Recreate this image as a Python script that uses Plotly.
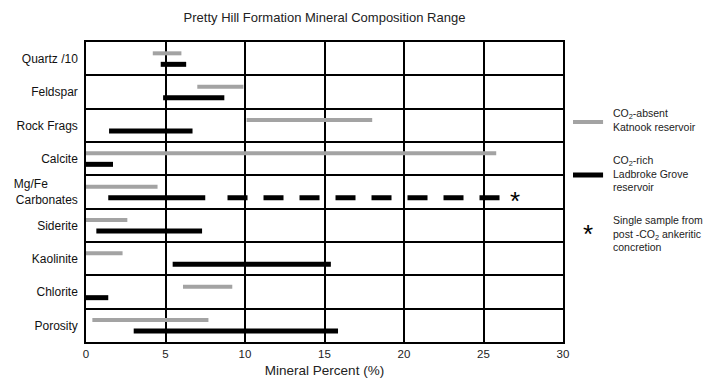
import plotly.graph_objects as go

NB = "\u00a0"
minerals = ["Quartz /10", "Feldspar", "Rock Frags", "Calcite", "Mg/Fe" + NB * 9 + "<br>Carbonates",
            "Siderite", "Kaolinite", "Chlorite", "Porosity"]
absent_lo = [4.2, 7.0, 10.1, 0.0, 0.0, 0.0, 0.0, 6.1, 0.4]
absent_hi = [6.0, 9.9, 18.0, 25.8, 4.5, 2.6, 2.3, 9.2, 7.7]
rich_lo = [4.7, 4.85, 1.45, 0.0, 1.4, 0.65, 5.45, 0.0, 3.0]
rich_hi = [6.3, 8.7, 6.7, 1.7, 7.5, 7.3, 15.4, 1.4, 15.85]
dash_row = 4
dash_lo, dash_hi = 8.9, 26.2
concretion_x = 27.0
x_ticks = [0, 5, 10, 15, 20, 25, 30]

GREY_OFF, BLACK_OFF = -0.16, 0.17
FONT = "Liberation Sans, Arial, sans-serif"


def seg(lo, hi, off):
    xs, ys = [], []
    for i, (a, b) in enumerate(zip(lo, hi)):
        y = i + 0.5 + off
        xs += [a, b, None]
        ys += [y, y, None]
    return xs, ys


fig = go.Figure()
gx, gy = seg(absent_lo, absent_hi, GREY_OFF)
fig.add_trace(go.Scatter(x=gx, y=gy, mode="lines", line=dict(color="#a3a3a3", width=4),
                         showlegend=False, hoverinfo="skip"))
bx, by = seg(rich_lo, rich_hi, BLACK_OFF)
fig.add_trace(go.Scatter(x=bx, y=by, mode="lines", line=dict(color="black", width=5),
                         showlegend=False, hoverinfo="skip"))
ri = dash_row
fig.add_trace(go.Scatter(x=[dash_lo, dash_hi], y=[ri + 0.5 + BLACK_OFF] * 2, mode="lines",
                         line=dict(color="black", width=5, dash="20px,16px"),
                         showlegend=False, hoverinfo="skip"))
fig.add_annotation(x=concretion_x, y=ri + 0.5 + BLACK_OFF, text="*", showarrow=False,
                   font=dict(family=FONT, size=26, color="black"), yshift=-3)

# legend
lx0, lx1 = 1.021, 1.084
def py(pix):
    return (342 - pix) / 300

fig.add_shape(type="line", xref="paper", yref="paper", x0=lx0, x1=lx1, y0=py(122), y1=py(122),
              line=dict(color="#a3a3a3", width=4))
fig.add_shape(type="line", xref="paper", yref="paper", x0=lx0, x1=lx1, y0=py(175), y1=py(175),
              line=dict(color="black", width=5))
leg_font = dict(family=FONT, size=10.5, color="#222")
fig.add_annotation(xref="paper", yref="paper", x=1.101, y=py(120), xanchor="left", yanchor="middle",
                   align="left", showarrow=False, font=leg_font,
                   text="CO<sub>2</sub>-absent<br>Katnook reservoir")
fig.add_annotation(xref="paper", yref="paper", x=1.101, y=py(173), xanchor="left", yanchor="middle",
                   align="left", showarrow=False, font=leg_font,
                   text="CO<sub>2</sub>-rich<br>Ladbroke Grove<br>reservoir")
fig.add_annotation(xref="paper", yref="paper", x=1.101, y=py(233), xanchor="left", yanchor="middle",
                   align="left", showarrow=False, font=leg_font,
                   text="Single sample from<br>post -CO<sub>2</sub> ankeritic<br>concretion")
fig.add_annotation(xref="paper", yref="paper", x=1.052, y=py(230), xanchor="center", yanchor="middle",
                   showarrow=False, font=dict(family=FONT, size=26, color="black"), text="*", yshift=-4)

fig.update_layout(
    width=717, height=378,
    margin=dict(l=86, r=154, t=42, b=36),
    paper_bgcolor="white", plot_bgcolor="white",
    title=dict(text="Pretty Hill Formation Mineral Composition Range", x=(86 + 563) / 2 / 717,
               xanchor="center", y=1 - 17 / 378, yanchor="middle",
               font=dict(family=FONT, size=13, color="#222")),
    xaxis=dict(range=[0, 30], tickvals=x_ticks, showgrid=True, gridcolor="black", gridwidth=1.5,
               zeroline=False, showline=True, linecolor="black", linewidth=1.5, mirror=True,
               automargin=False,
               ticks="", ticklabelstandoff=0, tickfont=dict(family=FONT, size=11.5, color="#222"),
               title=dict(text="Mineral Percent (%)", font=dict(family=FONT, size=13.5, color="#222"),
                          standoff=9)),
    yaxis=dict(range=[9, 0], tickvals=[i + 0.5 for i in range(len(minerals))], ticktext=minerals,
               showgrid=False, zeroline=False, showline=True, linecolor="black", linewidth=1.5,
               mirror=True, ticks="", ticklabelstandoff=4, automargin=False,
               tickfont=dict(family=FONT, size=12, color="#111"),
               minor=dict(tickvals=list(range(1, len(minerals))), showgrid=True,
                          gridcolor="black", gridwidth=1.5, ticks="")),
)

fig.write_html("out.html")
